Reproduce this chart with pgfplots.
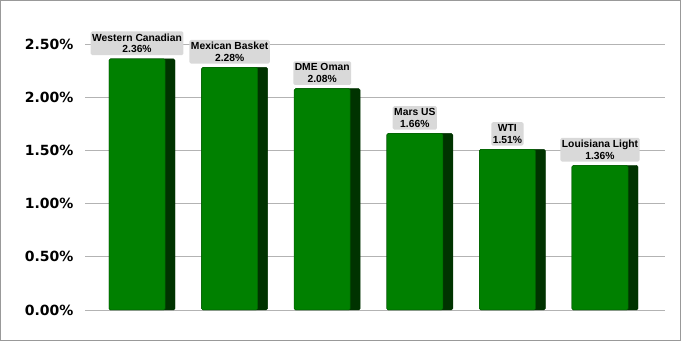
\documentclass[border=0pt]{standalone}
\usepackage{fontspec}
\setmainfont{Liberation Sans}
\newfontfamily\dv{DejaVu Sans}
\usepackage{pgfplots}
\pgfplotsset{compat=1.18}
\definecolor{barfront}{HTML}{008000}
\definecolor{barside}{HTML}{003300}
\definecolor{lblbg}{HTML}{D9D9D9}
\definecolor{gridc}{HTML}{B3B3B3}
\begin{document}
\begin{tikzpicture}
\begin{axis}[
  scale only axis,
  width=580pt, height=266pt,
  xmin=-0.616, xmax=5.648,
  ymin=0, ymax=2.5,
  ytick={0,0.5,1,1.5,2,2.5},
  xtick=\empty,
  ymajorgrids,
  grid style={gridc, line width=0.9pt},
  axis line style={draw=none},
  major tick style={draw=none},
  /pgf/number format/assume math mode=true,
  yticklabel style={font=\dv\bfseries\fontsize{14}{16}\selectfont, xshift=-8pt},
  yticklabel={\pgfmathprintnumber[fixed,fixed zerofill,precision=2]{\tick}\%},
  ybar, clip=false,
]
\coordinate (O) at (rel axis cs:0,0);
\coordinate (T) at (rel axis cs:1,1);
\addplot[fill=barside, draw=barside, bar width=0.713, bar shift=0, rounded corners=1.5pt]
  coordinates {(0,2.36) (1,2.28) (2,2.08) (3,1.66) (4,1.51) (5,1.36)};
\addplot[fill=barfront, draw=black!60!green, line width=0.5pt, bar width=0.605, bar shift=-0.054, rounded corners=1.5pt,
  point meta=explicit symbolic,
  nodes near coords,
  every node near coord/.append style={font=\bfseries\fontsize{10.3}{11.8}\selectfont, fill=lblbg, align=center, inner xsep=1.5pt, inner ysep=2.2pt, anchor=south, yshift=3.5pt, text=black}]
  coordinates {
  (0,2.36) [Western Canadian\\2.36\%]
  (1,2.28) [Mexican Basket\\2.28\%]
  (2,2.08) [DME Oman\\2.08\%]
  (3,1.66) [Mars US\\1.66\%]
  (4,1.51) [WTI\\1.51\%]
  (5,1.36) [Louisiana Light\\1.36\%]};
\end{axis}
\draw[gray!80, line width=1pt] ([shift={(-84.5pt,-30.5pt)}]O) rectangle ([shift={(15.5pt,43.5pt)}]T);
\end{tikzpicture}
\end{document}
